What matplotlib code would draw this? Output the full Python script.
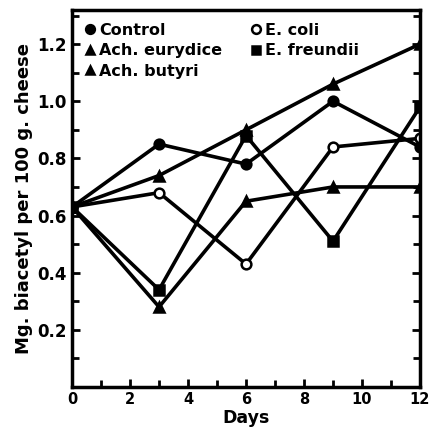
import numpy as np
import matplotlib.pyplot as plt
from matplotlib.ticker import MultipleLocator

days = [0, 3, 6, 9, 12]
control = [0.63, 0.85, 0.78, 1.00, 0.84]
eurydice = [0.63, 0.74, 0.90, 1.06, 1.20]
butyri = [0.63, 0.28, 0.65, 0.70, 0.70]
ecoli = [0.63, 0.68, 0.43, 0.84, 0.87]
freundii = [0.63, 0.34, 0.88, 0.51, 0.98]

names = ["Control", "Ach. eurydice", "Ach. butyri", "E. coli", "E. freundii"]
series = [control, eurydice, butyri, ecoli, freundii]
markers = ["o", "^", "^", "o", "s"]
faces = ["black", "black", "black", "white", "black"]

plt.rcParams['font.family'] = 'DejaVu Sans'
plt.rcParams['font.weight'] = 'bold'

fig = plt.figure(figsize=(4.29, 4.28), dpi=100)
ax = fig.add_axes([0.168, 0.096, 0.811, 0.881])

for ys, m, fc, nm in zip(series, markers, faces, names):
    ax.plot(days, ys, color="black", lw=2.6, marker=m, ms=7,
            mfc=fc, mec="black", mew=1.8, label=nm)

ax.set_xlim(0, 12)
ax.set_ylim(0, 1.32)
ax.xaxis.set_major_locator(MultipleLocator(2))
ax.xaxis.set_minor_locator(MultipleLocator(1))
ax.yaxis.set_minor_locator(MultipleLocator(0.1))
ax.set_yticks([0.2, 0.4, 0.6, 0.8, 1.0, 1.2])
ax.set_yticklabels(["0.2", "0.4", "0.6", "0.8", "1.0", "1.2"])
ax.tick_params(which="both", direction="in", width=2, right=True, top=False,
               labelsize=12, pad=4)
ax.tick_params(which="major", length=6)
ax.tick_params(which="minor", length=5)
ax.tick_params(axis="x", labelsize=10.5)
for lab in ax.get_xticklabels() + ax.get_yticklabels():
    lab.set_fontweight("bold")
for sp in ax.spines.values():
    sp.set_linewidth(2.5)

ax.set_xlabel("Days", fontsize=12.5, fontweight="bold", labelpad=1)
ax.set_ylabel("Mg. biacetyl per 100 g. cheese", fontsize=13, fontweight="bold", labelpad=3)

leg = ax.legend(loc="upper left", ncol=2, frameon=False,
                handlelength=0.6, handletextpad=0.3, columnspacing=1.8,
                labelspacing=0.35, borderaxespad=0.4, markerscale=0.9,
                prop={"weight": "bold", "size": 11.5})
for h in leg.legend_handles:
    h.set_linestyle("none")

fig.savefig("out.png", dpi=100)
